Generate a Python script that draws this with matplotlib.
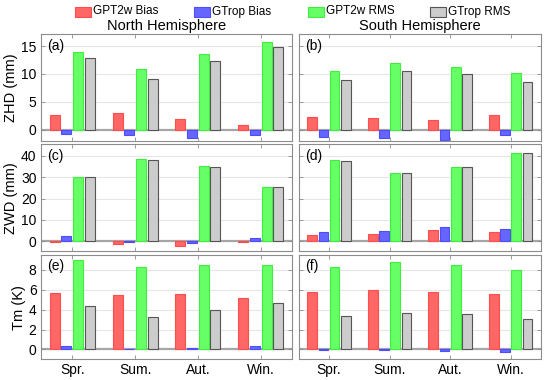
import numpy as np
import matplotlib
matplotlib.use("Agg")
import matplotlib.pyplot as plt

plt.rcParams["font.family"] = ["Liberation Sans", "DejaVu Sans"]

# ---------------- data ----------------
seasons = ["Spr.", "Sum.", "Aut.", "Win."]
series = ["GPT2w Bias", "GTrop Bias", "GPT2w RMS", "GTrop RMS"]

# ZHD (mm)
zhd_n_gpt_bias = [2.6, 2.95, 1.9, 0.9]
zhd_n_gtr_bias = [-0.7, -1.0, -1.4, -1.0]
zhd_n_gpt_rms = [14.0, 10.8, 13.5, 15.7]
zhd_n_gtr_rms = [12.8, 9.1, 12.3, 14.8]
zhd_s_gpt_bias = [2.3, 2.05, 1.75, 2.65]
zhd_s_gtr_bias = [-1.3, -1.4, -1.9, -1.0]
zhd_s_gpt_rms = [10.6, 11.9, 11.2, 10.1]
zhd_s_gtr_rms = [9.0, 10.5, 9.95, 8.5]

# ZWD (mm)
zwd_n_gpt_bias = [-0.6, -1.2, -2.2, -0.3]
zwd_n_gtr_bias = [2.35, -0.3, -0.8, 1.25]
zwd_n_gpt_rms = [30.1, 38.6, 35.1, 25.6]
zwd_n_gtr_rms = [30.0, 38.1, 34.7, 25.3]
zwd_s_gpt_bias = [2.7, 3.1, 5.3, 4.1]
zwd_s_gtr_bias = [4.1, 4.5, 6.4, 5.5]
zwd_s_gpt_rms = [38.1, 32.0, 34.7, 41.6]
zwd_s_gtr_rms = [37.6, 31.8, 34.8, 41.3]

# Tm (K)
tm_n_gpt_bias = [5.7, 5.5, 5.58, 5.18]
tm_n_gtr_bias = [0.37, 0.05, 0.13, 0.37]
tm_n_gpt_rms = [8.97, 8.33, 8.53, 8.46]
tm_n_gtr_rms = [4.37, 3.29, 3.97, 4.7]
tm_s_gpt_bias = [5.74, 5.98, 5.74, 5.54]
tm_s_gtr_bias = [-0.1, -0.05, -0.15, -0.25]
tm_s_gpt_rms = [8.33, 8.76, 8.5, 8.03]
tm_s_gtr_rms = [3.33, 3.7, 3.56, 3.06]

faces = ["#FF6666", "#6666FF", "#66FF66", "#CCCCCC"]
edges = ["#FF4D4D", "#4D4DFF", "#40EE40", "#555555"]

rows = [
    ("ZHD (mm)", (-2, 17.1), [0, 5, 10, 15],
     [zhd_n_gpt_bias, zhd_n_gtr_bias, zhd_n_gpt_rms, zhd_n_gtr_rms],
     [zhd_s_gpt_bias, zhd_s_gtr_bias, zhd_s_gpt_rms, zhd_s_gtr_rms]),
    ("ZWD (mm)", (-4.7, 45.5), [0, 10, 20, 30, 40],
     [zwd_n_gpt_bias, zwd_n_gtr_bias, zwd_n_gpt_rms, zwd_n_gtr_rms],
     [zwd_s_gpt_bias, zwd_s_gtr_bias, zwd_s_gpt_rms, zwd_s_gtr_rms]),
    ("Tm (K)", (-1, 9.5), [0, 2, 4, 6, 8],
     [tm_n_gpt_bias, tm_n_gtr_bias, tm_n_gpt_rms, tm_n_gtr_rms],
     [tm_s_gpt_bias, tm_s_gtr_bias, tm_s_gpt_rms, tm_s_gtr_rms]),
]

fig = plt.figure(figsize=(5.5, 3.8), dpi=100)

# позиции панелей в пикселях
W, H = 550.0, 380.0
col_px = [(40.7, 292.3), (298.7, 541.0)]
row_px = [(34.3, 141.0), (144.3, 251.0), (255.0, 359.3)]
letters = [["(a)", "(b)"], ["(c)", "(d)"], ["(e)", "(f)"]]

x = np.arange(1, 5)
offs = [-0.278, -0.093, 0.093, 0.278]
bw = 0.16
frame = "#8C8C8C"

for r, (ylab, ylim, yticks, north, south) in enumerate(rows):
    for c, data in enumerate([north, south]):
        x0, x1 = col_px[c]
        t, b = row_px[r]
        ax = fig.add_axes([x0 / W, 1 - b / H, (x1 - x0) / W, (b - t) / H])
        for yt in yticks:
            if yt != 0:
                ax.axhline(yt, color="#E6E6E6", lw=0.8, zorder=0)
        ax.axhline(0, color="#A6A6A6", lw=1.6, zorder=1)
        for k in range(4):
            ax.bar(x + offs[k], data[k], width=bw, color=faces[k],
                   edgecolor=edges[k], linewidth=0.8, zorder=2)
        ax.set_xlim(0.5, 4.5)
        ax.set_ylim(*ylim)
        ax.set_xticks(x)
        ax.set_yticks(yticks)
        ax.tick_params(direction="in", length=3, width=0.6, color=frame,
                       top=True, right=True, labelsize=10, pad=3)
        for sp in ax.spines.values():
            sp.set_color(frame)
            sp.set_linewidth(0.8)
        if r == 2:
            ax.set_xticklabels(seasons)
        else:
            ax.set_xticklabels([])
        if c == 0:
            ax.set_ylabel(ylab, fontsize=10.5, labelpad=2)
        else:
            ax.set_yticklabels([])
        ax.text(0.025, 0.89, letters[r][c], transform=ax.transAxes,
                fontsize=10, va="center", ha="left")
        if r == 0:
            ax.set_title(["North Hemisphere", "South Hemisphere"][c],
                         fontsize=10.5, pad=3)

# легенда сверху одной строкой
leg_x = [75, 194, 308, 430]
for k in range(4):
    fig.patches.append(plt.Rectangle(
        (leg_x[k] / W, 1 - 16.5 / H), 16 / W, 10 / H,
        transform=fig.transFigure, facecolor=faces[k], edgecolor=edges[k],
        linewidth=0.8))
    fig.text((leg_x[k] + 18) / W, 1 - 11.5 / H, series[k], fontsize=8.5,
             va="center", ha="left")

fig.savefig("out.png", dpi=100)
